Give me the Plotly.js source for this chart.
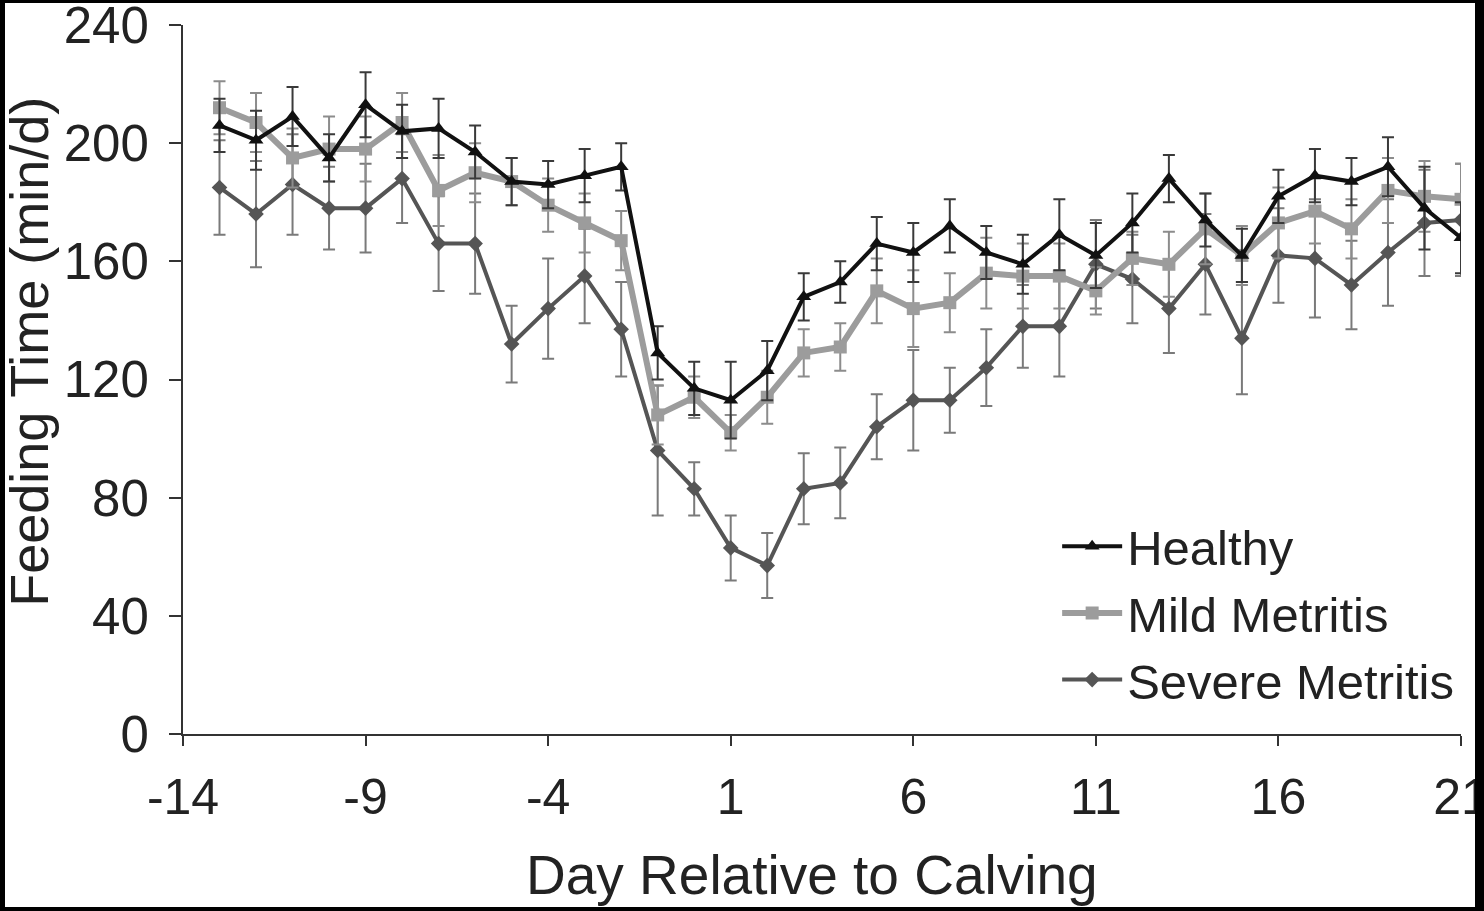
<!DOCTYPE html>
<html>
<head>
<meta charset="utf-8">
<script src="https://cdn.plot.ly/plotly-3.0.1.min.js"></script>
<style>
  html, body { margin: 0; padding: 0; background: #000; }
  #chart { position: absolute; left: 5px; top: 3px; width: 1470px; height: 904px; overflow: hidden; background: #fff; }
</style>
</head>
<body>
<div id="chart"></div>
<script>
// Feeding time around calving, by metritis group
var days = [-13, -12, -11, -10, -9, -8, -7, -6, -5, -4, -3, -2, -1, 0, 1, 2, 3, 4, 5, 6, 7, 8, 9, 10, 11, 12, 13, 14, 15, 16, 17, 18, 19, 20, 21];

var healthy = [206, 201, 209, 195, 213, 204, 205, 197, 187, 186, 189, 192, 129, 117, 113, 123, 148, 153, 166, 163, 172, 163, 159, 169, 162, 173, 188, 174, 162, 182, 189, 187, 192, 178, 168];
var healthyErr = [9, 10, 10, 8, 11, 9, 10, 9, 8, 8, 9, 8, 9, 9, 13, 10, 8, 7, 9, 10, 9, 9, 10, 12, 11, 10, 8, 9, 9, 9, 9, 8, 10, 14, 12];

var mild = [212, 207, 195, 198, 198, 207, 184, 190, 187, 179, 173, 167, 108, 114, 102, 114, 129, 131, 150, 144, 146, 156, 155, 155, 150, 161, 159, 171, 162, 173, 177, 171, 184, 182, 181];
var mildErr = [9, 10, 10, 11, 11, 10, 12, 10, 8, 9, 10, 10, 10, 7, 6, 9, 8, 8, 11, 13, 10, 12, 11, 11, 8, 9, 11, 12, 10, 12, 11, 10, 11, 12, 12];

var severe = [185, 176, 186, 178, 178, 188, 166, 166, 132, 144, 155, 137, 96, 83, 63, 57, 83, 85, 104, 113, 113, 124, 138, 138, 159, 154, 144, 159, 134, 162, 161, 152, 163, 173, 174];
var severeErr = [16, 18, 17, 14, 15, 15, 16, 17, 13, 17, 16, 16, 22, 9, 11, 11, 12, 12, 11, 17, 11, 13, 14, 17, 15, 15, 15, 17, 19, 16, 20, 15, 18, 18, 19];

var xTicks = [-14, -9, -4, 1, 6, 11, 16, 21];
var yTicks = [0, 40, 80, 120, 160, 200, 240];

var FONT = 'Liberation Sans, Arial, Helvetica, sans-serif';
var INK = '#222';

function series(name, y, err, lineColor, lineWidth, errColor, symbol, size) {
  return {
    type: 'scatter',
    mode: 'lines+markers',
    name: name,
    x: days,
    y: y,
    line: { color: lineColor, width: lineWidth },
    marker: { symbol: symbol, size: size, color: lineColor },
    error_y: { type: 'data', array: err, visible: true, color: errColor, thickness: 2, width: 6 }
  };
}

var traces = [
  series('Severe Metritis', severe, severeErr, '#555555', 4, '#7a7a7a', 'diamond', 12),
  series('Mild Metritis', mild, mildErr, '#9c9c9c', 6, '#8c8c8c', 'square', 13),
  series('Healthy', healthy, healthyErr, '#111111', 4, '#3a3a3a', 'triangle-up', 13)
];

var layout = {
  width: 1470,
  height: 904,
  margin: { l: 178, r: 14, t: 22, b: 173, autoexpand: false },
  paper_bgcolor: '#fff',
  plot_bgcolor: '#fff',
  font: { family: FONT, size: 50, color: INK },
  showlegend: true,
  legend: {
    x: 0.684, y: 0.319, xanchor: 'left', yanchor: 'top',
    traceorder: 'reversed',
    font: { family: FONT, size: 49, color: INK },
    itemwidth: 60,
    tracegroupgap: 0,
    bgcolor: 'rgba(0,0,0,0)'
  },
  xaxis: {
    range: [-14, 21],
    tickvals: xTicks,
    ticktext: xTicks.map(String),
    ticks: 'outside', ticklen: 10, tickwidth: 2, tickcolor: '#333',
    showline: true, linecolor: '#333', linewidth: 2,
    showgrid: false, zeroline: false,
    ticklabelstandoff: 8,
    ticklabeloverflow: 'allow',
    tickfont: { family: FONT, size: 50, color: INK }
  },
  yaxis: {
    range: [0, 240],
    tickvals: yTicks,
    ticktext: yTicks.map(String),
    ticks: 'outside', ticklen: 12, tickwidth: 2, tickcolor: '#333',
    showline: true, linecolor: '#333', linewidth: 2,
    showgrid: false, zeroline: false,
    ticklabelstandoff: 10,
    ticklabeloverflow: 'allow',
    tickfont: { family: FONT, size: 51, color: INK }
  },
  annotations: [
    {
      text: 'Day Relative to Calving',
      xref: 'paper', yref: 'paper', x: 0.492, y: 0,
      xanchor: 'center', yanchor: 'middle', yshift: -141,
      showarrow: false, font: { family: FONT, size: 55, color: INK }
    },
    {
      text: 'Feeding Time (min/d)',
      xref: 'paper', yref: 'paper', x: 0, y: 0.539,
      xanchor: 'center', yanchor: 'middle', xshift: -154,
      textangle: -90,
      showarrow: false, font: { family: FONT, size: 54, color: INK }
    }
  ]
};

Plotly.newPlot('chart', traces, layout, { displayModeBar: false, staticPlot: true });
</script>
</body>
</html>
